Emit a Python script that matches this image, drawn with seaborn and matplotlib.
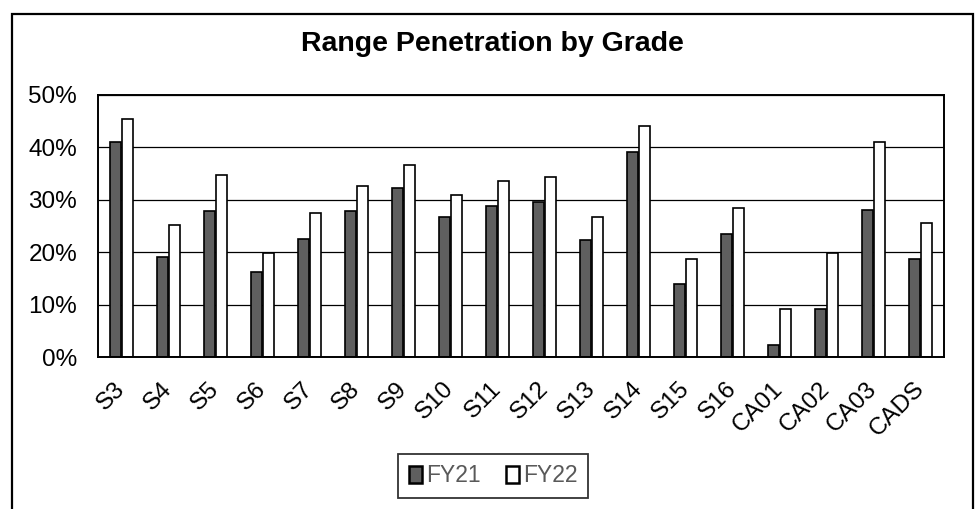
import pandas as pd
import seaborn as sns
from matplotlib import pyplot as plt
from matplotlib import transforms
from matplotlib.patches import Rectangle, Patch
from matplotlib.ticker import PercentFormatter

grades = ['S3', 'S4', 'S5', 'S6', 'S7', 'S8', 'S9', 'S10', 'S11', 'S12',
          'S13', 'S14', 'S15', 'S16', 'CA01', 'CA02', 'CA03', 'CADS']
fy21 = [0.411, 0.190, 0.279, 0.163, 0.225, 0.279, 0.323, 0.268, 0.289, 0.295,
        0.223, 0.392, 0.139, 0.235, 0.023, 0.092, 0.281, 0.187]
fy22 = [0.455, 0.252, 0.348, 0.198, 0.275, 0.326, 0.366, 0.310, 0.336, 0.343,
        0.268, 0.441, 0.187, 0.284, 0.091, 0.198, 0.410, 0.255]
years = ['FY21', 'FY22']
colors = {'FY21': '#5f5f5f', 'FY22': 'white'}

df = pd.concat([
    pd.DataFrame({'grade': grades, 'value': fy21, 'year': 'FY21'}),
    pd.DataFrame({'grade': grades, 'value': fy22, 'year': 'FY22'}),
], ignore_index=True)

sns.set_style('white')
plt.rcParams['font.family'] = ['Liberation Sans', 'DejaVu Sans']
plt.rcParams['text.color'] = 'black'

fig = plt.figure(figsize=(9.78, 5.09), dpi=100)
ax = fig.add_axes([98 / 978, 1 - 357 / 509, (944 - 98) / 978, (357 - 95) / 509])

sns.barplot(ax=ax, data=df, x='grade', y='value', hue='year', order=grades,
            hue_order=years, palette=colors, width=0.552, gap=0.15,
            edgecolor='black', linewidth=1.2, legend=False)

ax.set_ylim(0, 0.5)
ax.set_yticks([0, 0.1, 0.2, 0.3, 0.4, 0.5])
ax.yaxis.set_major_formatter(PercentFormatter(1.0, decimals=0))
ax.set_xlim(-0.5, len(grades) - 0.5)
ax.set(xlabel='', ylabel='')
ax.grid(axis='y', color='black', linewidth=0.9)
ax.set_axisbelow(True)
for s in ax.spines.values():
    s.set_color('black')
    s.set_linewidth(1.4)

ax.tick_params(axis='y', length=0, pad=15, labelsize=17.5, labelcolor='black')
ax.tick_params(axis='x', length=0, pad=15, labelsize=17.5, labelcolor='black')
shift = transforms.ScaledTranslation(8 / 100, 0, fig.dpi_scale_trans)
for lab in ax.get_xticklabels():
    lab.set_rotation(45)
    lab.set_ha('right')
    lab.set_transform(lab.get_transform() + shift)

fig.text(492 / 978, 1 - 44 / 509, 'Range Penetration by Grade', ha='center',
         va='center', fontsize=20.5, fontweight='bold', color='black')

handles = [Patch(facecolor=colors[y], edgecolor='black', linewidth=1.8) for y in years]
leg = fig.legend(handles, years, loc='center', bbox_to_anchor=(493 / 978, 1 - 476 / 509),
                 ncol=2, fontsize=16.5, frameon=True, fancybox=False,
                 handlelength=0.6, handleheight=0.75, handletextpad=0.15,
                 columnspacing=1.1, borderpad=0.45)
leg.get_frame().set_edgecolor('black')
leg.get_frame().set_linewidth(1.3)
for t in leg.get_texts():
    t.set_color('#595959')

frame = Rectangle((12 / 978, -0.05), (973 - 12) / 978, 1.05 - 14 / 509,
                  transform=fig.transFigure, fill=False, edgecolor='black',
                  linewidth=1.6, clip_on=False)
fig.add_artist(frame)

fig.savefig('out.png', dpi=100)
